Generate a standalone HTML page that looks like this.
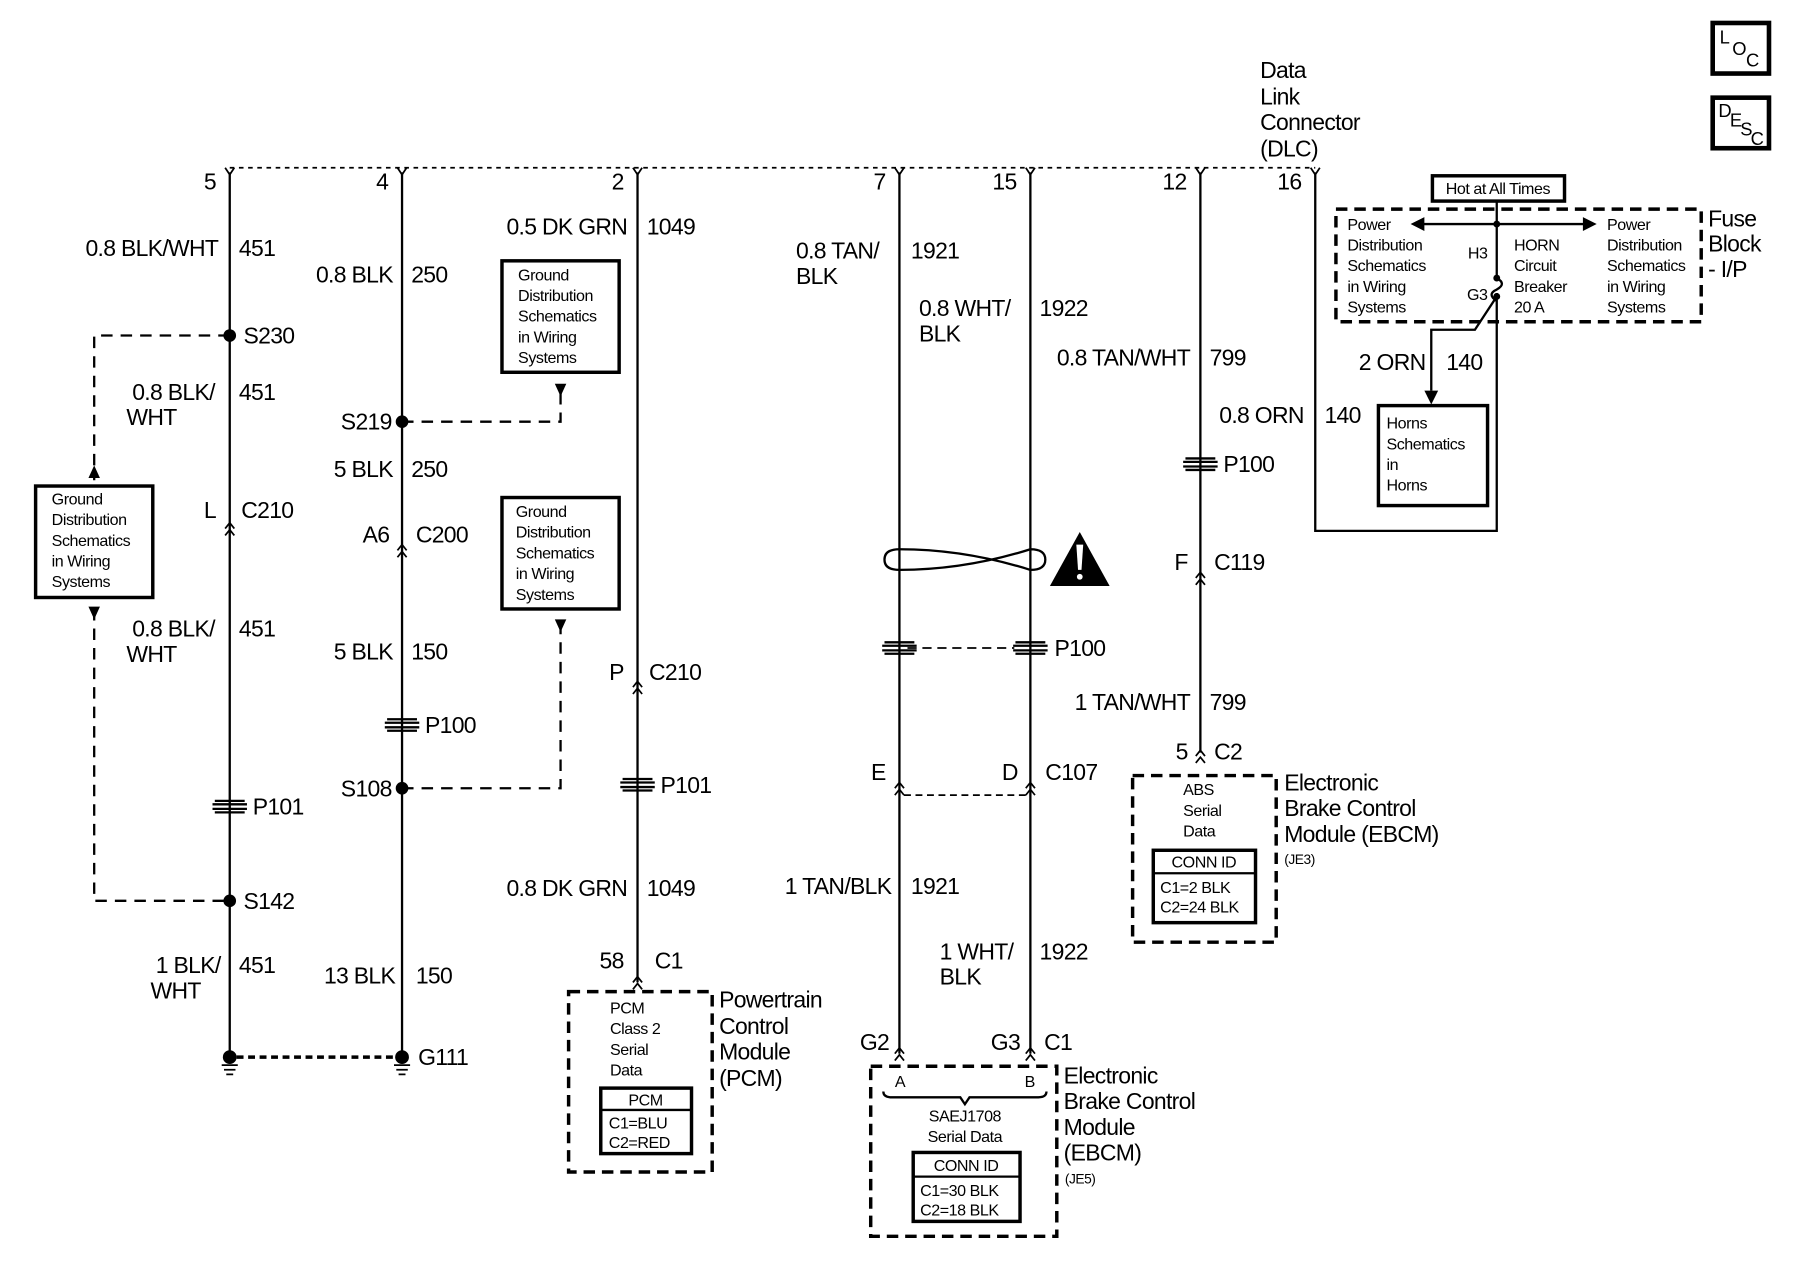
<!DOCTYPE html>
<html><head><meta charset="utf-8"><style>
html,body{margin:0;padding:0;background:#fff}
svg{display:block}
text{font-family:"Liberation Sans",sans-serif;fill:#000}
.w{font-size:20px;letter-spacing:-0.6px}
.s{font-size:14px;letter-spacing:-0.4px}
</style></head><body>
<svg width="1800" height="1280" viewBox="0 0 1567 1114" preserveAspectRatio="none" xmlns="http://www.w3.org/2000/svg">
<defs>
<g id="pin"><path d="M-4,146 L0,152 L4,146" fill="none" stroke="#000" stroke-width="1.5"/></g>
<g id="grom"><path d="M-13,-5 H13 M-15,-2 H15 M-15,2 H15 M-13,5 H13" stroke="#000" stroke-width="2" fill="none"/></g>
<g id="conn"><path d="M-4,-2 L0,-7 L4,-2 M-4,4 L0,-1 L4,4" stroke="#000" stroke-width="1.5" fill="none"/></g>
<g id="gnd"><circle cx="0" cy="0" r="6"/><path d="M-7,7 H7 M-5,11 H5 M-3,15 H3" stroke="#000" stroke-width="1.5"/></g>
</defs>
<g stroke="#000" fill="none" stroke-width="2">
<path d="M200,146 H1145" stroke-dasharray="4,4" stroke-width="1.5"/>
<path d="M200,150 V920 M350,150 V920 M555,150 V855 M783,150 V917 M897,150 V917 M1045,150 V655 M1145,150 V462 H1303 V255"/>
<path d="M200,292 H82 V418 M82,530 V784 H200" stroke-dasharray="10,7"/>
<path d="M350,367 H488 V340 M350,686 H488 V545" stroke-dasharray="10,7"/>
<path d="M206,920 H344" stroke-dasharray="6,4" stroke-width="3"/>
<path d="M790,564 H883" stroke-dasharray="8,5" stroke-width="1.5"/>
<path d="M787,692 H893" stroke-dasharray="6,4" stroke-width="1.5"/>
<rect x="31" y="423" width="102" height="97" stroke-width="3"/>
<rect x="437" y="227" width="102" height="97" stroke-width="3"/>
<rect x="437" y="433" width="102" height="97" stroke-width="3"/>
<rect x="495" y="863" width="125" height="157" stroke-dasharray="10,6" stroke-width="3"/>
<rect x="523" y="947" width="79" height="57" stroke-width="3"/><path d="M523,966 H602"/>
<rect x="758" y="928" width="162" height="148" stroke-dasharray="10,6" stroke-width="3"/>
<rect x="795" y="1003" width="93" height="60" stroke-width="3"/><path d="M795,1024 H888"/>
<path d="M769,950 Q769,955 776,955 H836 L840,961 L844,955 H904 Q911,955 911,950" stroke-width="2"/>
<rect x="986" y="675" width="125" height="145" stroke-dasharray="10,6" stroke-width="3"/>
<rect x="1004" y="740" width="89" height="63" stroke-width="3"/><path d="M1004,760 H1093"/>
<rect x="1163" y="182" width="318" height="98" stroke-dasharray="10,6" stroke-width="3"/>
<rect x="1247" y="153" width="115" height="22" stroke-width="3"/>
<rect x="1200" y="353" width="95" height="87" stroke-width="3"/>
<rect x="1491" y="20" width="49" height="44" stroke-width="4"/>
<rect x="1491" y="85" width="49" height="44" stroke-width="4"/>
<path d="M1303,175 V242 M1236,195 H1380"/>
<path d="M1303,242 Q1312,247 1303,252 Q1294,256 1303,262"/>
<path d="M1303,258 L1284,287 H1246 V340"/>
<path d="M783,478 Q840,478 897,496 M783,496 Q840,496 897,478 M783,478 Q770,478 770,487 Q770,496 783,496 M897,478 Q910,478 910,487 Q910,496 897,496" stroke-width="2"/>
</g>
<g fill="#000">
<polygon points="1228,195 1240,189 1240,201"/><polygon points="1390,195 1378,189 1378,201"/>
<polygon points="1240,340 1252,340 1246,352"/>
<polygon points="77,416 87,416 82,405"/><polygon points="77,528 87,528 82,539"/>
<polygon points="483,334 493,334 488,345"/><polygon points="483,539 493,539 488,550"/>
<circle cx="1303" cy="195" r="3"/><circle cx="1303" cy="242" r="3"/><circle cx="1303" cy="258" r="3"/>
<circle cx="200" cy="292" r="5.5"/><circle cx="200" cy="784" r="5.5"/>
<circle cx="350" cy="367" r="5.5"/><circle cx="350" cy="686" r="5.5"/>
<polygon points="940,463 914,510 966,510"/>
</g>
<path d="M937,474 h6 l-1.5,22 h-3 z" fill="#fff"/><circle cx="940" cy="502" r="2.5" fill="#fff"/>
<use href="#pin" x="200"/><use href="#pin" x="350"/><use href="#pin" x="555"/><use href="#pin" x="783"/><use href="#pin" x="897"/><use href="#pin" x="1045"/><use href="#pin" x="1145"/>
<use href="#grom" x="200" y="702"/><use href="#grom" x="350" y="631"/><use href="#grom" x="555" y="683"/>
<use href="#grom" x="783" y="564"/><use href="#grom" x="897" y="564"/><use href="#grom" x="1045" y="404"/>
<use href="#conn" x="200" y="462"/><use href="#conn" x="350" y="481"/><use href="#conn" x="555" y="600"/>
<use href="#conn" x="783" y="688"/><use href="#conn" x="897" y="688"/><use href="#conn" x="1045" y="505"/>
<use href="#conn" x="555" y="857"/><use href="#conn" x="1045" y="660"/><use href="#conn" x="783" y="919"/><use href="#conn" x="897" y="919"/>
<use href="#gnd" x="200" y="920"/><use href="#gnd" x="350" y="920"/>
<g class="w">
<text x="188" y="165" text-anchor="end">5</text><text x="338" y="165" text-anchor="end">4</text><text x="543" y="165" text-anchor="end">2</text>
<text x="771" y="165" text-anchor="end">7</text><text x="885" y="165" text-anchor="end">15</text><text x="1033" y="165" text-anchor="end">12</text><text x="1133" y="165" text-anchor="end">16</text>
<text x="190" y="223" text-anchor="end">0.8 BLK/WHT</text><text x="208" y="223">451</text>
<text x="212" y="299">S230</text>
<text x="187" y="348" text-anchor="end">0.8 BLK/</text><text x="110" y="370">WHT</text><text x="208" y="348">451</text>
<text x="188" y="451" text-anchor="end">L</text><text x="210" y="451">C210</text>
<text x="187" y="554" text-anchor="end">0.8 BLK/</text><text x="110" y="576">WHT</text><text x="208" y="554">451</text>
<text x="220" y="709">P101</text><text x="212" y="791">S142</text>
<text x="192" y="847" text-anchor="end">1 BLK/</text><text x="131" y="869">WHT</text><text x="208" y="847">451</text>
<text x="342" y="246" text-anchor="end">0.8 BLK</text><text x="358" y="246">250</text>
<text x="341" y="374" text-anchor="end">S219</text>
<text x="342" y="415" text-anchor="end">5 BLK</text><text x="358" y="415">250</text>
<text x="339" y="472" text-anchor="end">A6</text><text x="362" y="472">C200</text>
<text x="342" y="574" text-anchor="end">5 BLK</text><text x="358" y="574">150</text>
<text x="370" y="638">P100</text>
<text x="341" y="693" text-anchor="end">S108</text>
<text x="344" y="856" text-anchor="end">13 BLK</text><text x="362" y="856">150</text>
<text x="364" y="927">G111</text>
<text x="546" y="204" text-anchor="end">0.5 DK GRN</text><text x="563" y="204">1049</text>
<text x="543" y="592" text-anchor="end">P</text><text x="565" y="592">C210</text>
<text x="575" y="690">P101</text>
<text x="546" y="780" text-anchor="end">0.8 DK GRN</text><text x="563" y="780">1049</text>
<text x="543" y="843" text-anchor="end">58</text><text x="570" y="843">C1</text>
<text x="693" y="225">0.8 TAN/</text><text x="693" y="247">BLK</text><text x="793" y="225">1921</text>
<text x="800" y="275">0.8 WHT/</text><text x="800" y="297">BLK</text><text x="905" y="275">1922</text>
<text x="918" y="571">P100</text>
<text x="771" y="679" text-anchor="end">E</text><text x="886" y="679" text-anchor="end">D</text><text x="910" y="679">C107</text>
<text x="776" y="778" text-anchor="end">1 TAN/BLK</text><text x="793" y="778">1921</text>
<text x="818" y="835">1 WHT/</text><text x="818" y="857">BLK</text><text x="905" y="835">1922</text>
<text x="774" y="914" text-anchor="end">G2</text><text x="888" y="914" text-anchor="end">G3</text><text x="909" y="914">C1</text>
<text x="1036" y="318" text-anchor="end">0.8 TAN/WHT</text><text x="1053" y="318">799</text>
<text x="1135" y="368" text-anchor="end">0.8 ORN</text><text x="1153" y="368">140</text>
<text x="1065" y="411">P100</text>
<text x="1034" y="496" text-anchor="end">F</text><text x="1057" y="496">C119</text>
<text x="1036" y="618" text-anchor="end">1 TAN/WHT</text><text x="1053" y="618">799</text>
<text x="1034" y="661" text-anchor="end">5</text><text x="1057" y="661">C2</text>
<text x="1241" y="322" text-anchor="end">2 ORN</text><text x="1259" y="322">140</text>
<text x="1097" y="68">Data</text><text x="1097" y="91">Link</text><text x="1097" y="113">Connector</text><text x="1097" y="136">(DLC)</text>
<text x="1487" y="197">Fuse</text><text x="1487" y="219">Block</text><text x="1487" y="241">- I/P</text>
<text x="626" y="877">Powertrain</text><text x="626" y="900">Control</text><text x="626" y="922">Module</text><text x="626" y="945">(PCM)</text>
<text x="926" y="943">Electronic</text><text x="926" y="965">Brake Control</text><text x="926" y="988">Module</text><text x="926" y="1010">(EBCM)</text>
<text x="1118" y="688">Electronic</text><text x="1118" y="710">Brake Control</text><text x="1118" y="733">Module (EBCM)</text>
</g>
<g class="s">
<text x="45" y="439">Ground</text><text x="45" y="457">Distribution</text><text x="45" y="475">Schematics</text><text x="45" y="493">in Wiring</text><text x="45" y="511">Systems</text>
<text x="451" y="244">Ground</text><text x="451" y="262">Distribution</text><text x="451" y="280">Schematics</text><text x="451" y="298">in Wiring</text><text x="451" y="316">Systems</text>
<text x="449" y="450">Ground</text><text x="449" y="468">Distribution</text><text x="449" y="486">Schematics</text><text x="449" y="504">in Wiring</text><text x="449" y="522">Systems</text>
<text x="531" y="882">PCM</text><text x="531" y="900">Class 2</text><text x="531" y="918">Serial</text><text x="531" y="936">Data</text>
<text x="562" y="962" text-anchor="middle">PCM</text><text x="530" y="982">C1=BLU</text><text x="530" y="999">C2=RED</text>
<text x="779" y="946">A</text><text x="892" y="946">B</text>
<text x="840" y="976" text-anchor="middle">SAEJ1708</text><text x="840" y="994" text-anchor="middle">Serial Data</text>
<text x="841" y="1019" text-anchor="middle">CONN ID</text><text x="801" y="1041">C1=30 BLK</text><text x="801" y="1058">C2=18 BLK</text>
<text x="927" y="1030" font-size="12">(JE5)</text>
<text x="1030" y="692">ABS</text><text x="1030" y="710">Serial</text><text x="1030" y="728">Data</text>
<text x="1048" y="755" text-anchor="middle">CONN ID</text><text x="1010" y="777">C1=2 BLK</text><text x="1010" y="794">C2=24 BLK</text>
<text x="1118" y="752" font-size="12">(JE3)</text>
<text x="1304" y="169" text-anchor="middle">Hot at All Times</text>
<text x="1173" y="200">Power</text><text x="1173" y="218">Distribution</text><text x="1173" y="236">Schematics</text><text x="1173" y="254">in Wiring</text><text x="1173" y="272">Systems</text>
<text x="1399" y="200">Power</text><text x="1399" y="218">Distribution</text><text x="1399" y="236">Schematics</text><text x="1399" y="254">in Wiring</text><text x="1399" y="272">Systems</text>
<text x="1318" y="218">HORN</text><text x="1318" y="236">Circuit</text><text x="1318" y="254">Breaker</text><text x="1318" y="272">20 A</text>
<text x="1295" y="225" text-anchor="end">H3</text><text x="1295" y="261" text-anchor="end">G3</text>
<text x="1207" y="373">Horns</text><text x="1207" y="391">Schematics</text><text x="1207" y="409">in</text><text x="1207" y="427">Horns</text>
</g>
<g font-size="16"><text x="1497" y="38">L</text><text x="1508" y="48">O</text><text x="1520" y="58">C</text>
<text x="1496" y="102">D</text><text x="1506" y="110">E</text><text x="1515" y="118">S</text><text x="1524" y="126">C</text></g>
</svg>
</body></html>
